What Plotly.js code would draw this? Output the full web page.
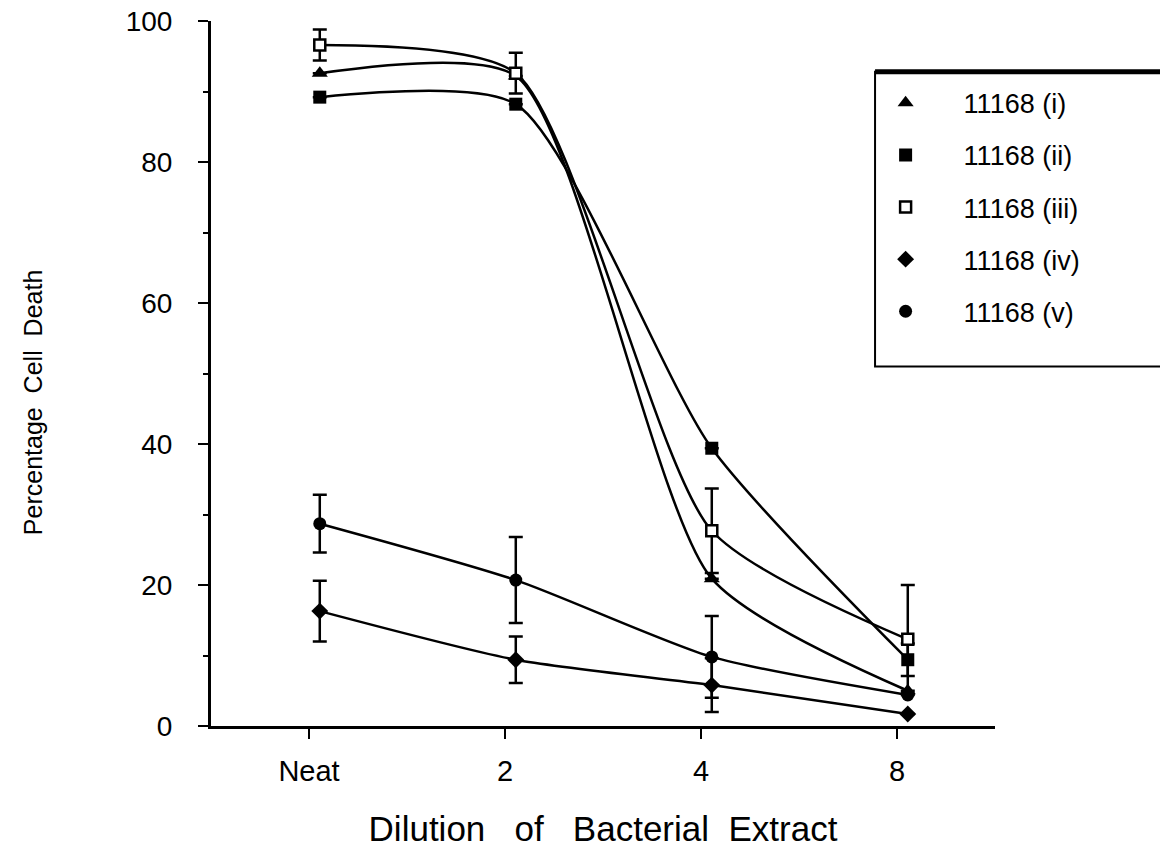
<!DOCTYPE html>
<html>
<head>
<meta charset="utf-8">
<script src="https://cdn.plot.ly/plotly-3.0.1.min.js"></script>
<style>html,body{margin:0;padding:0;background:#fff;}#chart{width:1160px;height:865px;}</style>
</head>
<body>
<div id="chart"></div>
<script>
// Categories (x axis)
const categories = ['Neat', '2', '4', '8'];
// Series names
const names = ['11168 (i)', '11168 (ii)', '11168 (iii)', '11168 (iv)', '11168 (v)'];
// Percentage cell death values
const s1 = [92.6, 92.2, 20.9, 5.0];
const s2 = [89.2, 88.2, 39.4, 9.4];
const s3 = [96.6, 92.6, 27.7, 12.3];
const s4 = [16.3, 9.4, 5.8, 1.7];
const s5 = [28.7, 20.7, 9.8, 4.4];
// Error bar half-lengths
const e1 = [0, 0, 0, 0];
const e2 = [0, 0, 0, 2.3];
const e3 = [2.2, 2.9, 6.0, 7.7];
const e4 = [4.3, 3.3, 3.8, 0];
const e5 = [4.1, 6.1, 5.8, 0];

const series = [s1, s2, s3, s4, s5];
const errs = [e1, e2, e3, e4, e5];
const markers = [
  {symbol: 'triangle-up', size: 14, color: '#000', line: {width: 0}},
  {symbol: 'square', size: 13, color: '#000', line: {width: 0}},
  {symbol: 'square', size: 11, color: '#fff', line: {width: 2.5, color: '#000'}},
  {symbol: 'diamond', size: 13, color: '#000', line: {width: 0}},
  {symbol: 'circle', size: 13, color: '#000', line: {width: 0}}
];

const offset = 0.055; // points sit slightly right of the tick marks
const xPos = categories.map((c, i) => i + offset);

const traces = [];
series.forEach((s, k) => {
  traces.push({
    x: xPos, y: s, type: 'scatter', mode: 'lines',
    line: {color: '#000', width: 2.5, shape: 'spline', smoothing: 0.65},
    showlegend: false, hoverinfo: 'skip'
  });
});
series.forEach((s, k) => {
  traces.push({
    x: xPos, y: s, type: 'scatter', mode: 'markers', name: names[k],
    legendgroup: 'g' + k,
    marker: markers[k],
    error_y: {type: 'data', array: errs[k], visible: true, color: '#000', thickness: 2.5, width: 7}
  });
});

const font = 'Liberation Sans, Arial, sans-serif';
const nb = '\u00a0';
const layout = {
  width: 1160, height: 865,
  margin: {l: 211, r: 165, t: 21, b: 139},
  paper_bgcolor: '#fff', plot_bgcolor: '#fff',
  font: {family: font, color: '#000', size: 28},
  xaxis: {
    range: [-0.5, 3.5], tickvals: [0, 1, 2, 3], ticktext: categories,
    showgrid: false, zeroline: false, showline: true, linecolor: '#000', linewidth: 2.5,
    ticks: 'outside', ticklen: 10, tickwidth: 2, tickcolor: '#000',
    ticklabelstandoff: 8,
    tickfont: {size: 29, family: font},
    title: {text: 'Dilution' + nb + nb + nb + 'of' + nb + nb + nb + 'Bacterial' + nb + nb + 'Extract', font: {size: 35, family: font}, standoff: 30}
  },
  yaxis: {
    range: [0, 100], tickvals: [0, 20, 40, 60, 80, 100],
    showgrid: false, zeroline: false, showline: true, linecolor: '#000', linewidth: 3,
    ticks: 'outside', ticklen: 10, tickwidth: 2, tickcolor: '#000',
    ticklabelstandoff: 20,
    minor: {dtick: 10, ticks: 'outside', ticklen: 5, tickwidth: 2, tickcolor: '#000', showgrid: false},
    tickfont: {size: 28, family: font}
  },
  annotations: [
    {text: 'Percentage' + nb + nb + 'Cell' + nb + nb + 'Death', textangle: -90,
     xref: 'paper', yref: 'paper', x: -0.227, y: 0.458, xanchor: 'center', yanchor: 'middle',
     showarrow: false, font: {size: 25, family: font}}
  ],
  shapes: [
    {type: 'rect', xref: 'paper', yref: 'paper', x0: 0.847, x1: 1.3, y0: 0.51, y1: 0.928,
     line: {color: '#000', width: 2}, fillcolor: '#fff', layer: 'below'},
    {type: 'line', xref: 'paper', yref: 'paper', x0: 0.847, x1: 1.3, y0: 0.928, y1: 0.928,
     line: {color: '#000', width: 5}}
  ],
  legend: {
    x: 0.812, y: 0.918, xanchor: 'left', yanchor: 'top',
    bgcolor: 'rgba(0,0,0,0)', borderwidth: 0,
    font: {size: 27, family: font},
    traceorder: 'grouped', tracegroupgap: 14, itemwidth: 106
  },
  showlegend: true
};

Plotly.newPlot('chart', traces, layout, {displayModeBar: false, staticPlot: true});
</script>
</body>
</html>
